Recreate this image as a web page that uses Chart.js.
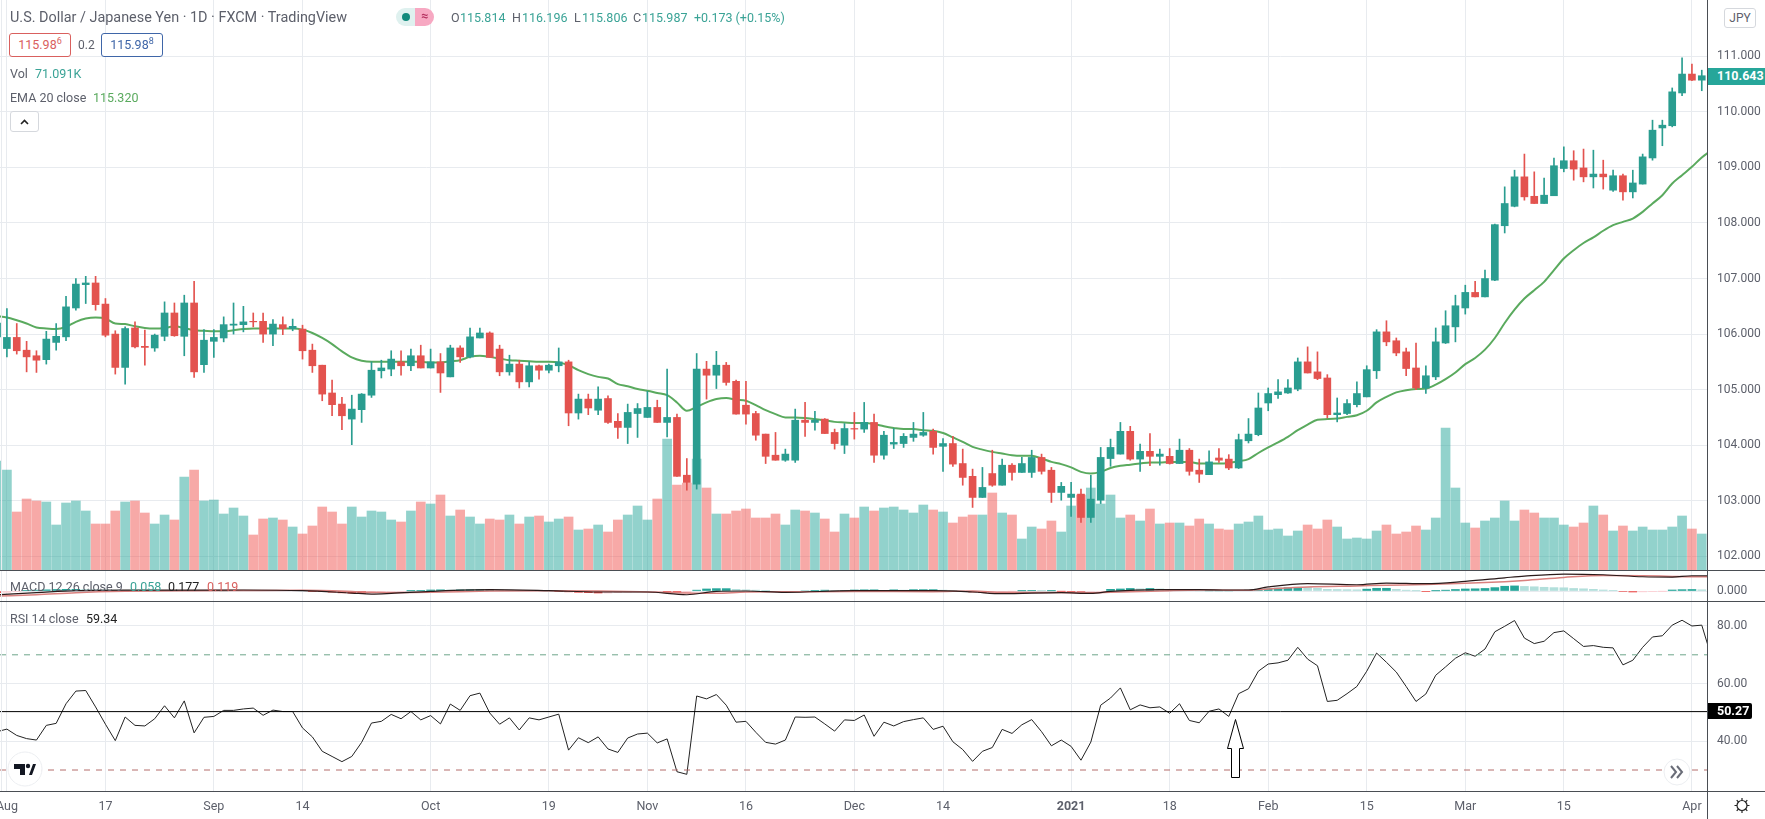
<!DOCTYPE html>
<html>
<head>
<meta charset="utf-8">
<script src="https://cdn.jsdelivr.net/npm/chart.js@4"></script>
<style>
html, body { margin: 0; padding: 0; background: #fff; overflow: hidden; }
#page { position: relative; width: 1765px; height: 819px; overflow: hidden; font-family: Roboto, sans-serif; font-size: 12.5px; color: #5d606b; }
canvas { position: absolute; left: 0; }
.t { position: absolute; white-space: nowrap; line-height: 16px; }
.g { color: #3aa396; }
.sep { position: absolute; background: #4a4e54; }
.box { position: absolute; border-radius: 3px; background: #fff; text-align: center; line-height: 22px; height: 22px; }
sup { font-size: 9px; line-height: 0; }
.tag { position: absolute; color: #fff; font-weight: bold; font-size: 12.5px; line-height: 16px; padding-left: 9px; box-sizing: border-box; }
</style>
</head>
<body>
<div id="page">
  <canvas id="priceChart" style="top:0" width="1765" height="570"></canvas>
  <canvas id="macdChart" style="top:571px" width="1765" height="30"></canvas>
  <canvas id="rsiChart" style="top:601px" width="1765" height="218"></canvas>

  <div class="sep" style="left:1px;top:0;width:1px;height:791px;background:#e8ebef"></div>
  <div class="sep" style="left:0;top:570px;width:1765px;height:1px"></div>
  <div class="sep" style="left:0;top:601px;width:1765px;height:1px"></div>
  <div class="sep" style="left:0;top:791px;width:1765px;height:1px"></div>
  <div class="sep" style="left:1707px;top:0;width:1px;height:819px"></div>

  <div class="t" style="left:10px;top:10px;font-size:14.4px">U.S. Dollar / Japanese Yen · 1D · FXCM · TradingView</div>
  <div style="position:absolute;left:396px;top:8px;width:19px;height:18px;background:#dff1ef;border-radius:9px 0 0 9px"></div>
  <div style="position:absolute;left:402px;top:13px;width:8px;height:8px;background:#138a7c;border-radius:50%"></div>
  <div class="t" style="left:415px;top:8px;width:19px;height:18px;background:#f7a8c2;border-radius:0 9px 9px 0;color:#b5305f;text-align:center;font-weight:bold">≈</div>
  <div class="t" style="left:451px;top:10px">O</div><div class="t g" style="left:460px;top:10px">115.814</div>
  <div class="t" style="left:512px;top:10px">H</div><div class="t g" style="left:522px;top:10px">116.196</div>
  <div class="t" style="left:574px;top:10px">L</div><div class="t g" style="left:582px;top:10px">115.806</div>
  <div class="t" style="left:633px;top:10px">C</div><div class="t g" style="left:642px;top:10px">115.987</div>
  <div class="t g" style="left:694px;top:10px">+0.173 (+0.15%)</div>

  <div class="box" style="left:9px;top:33px;width:60px;border:1px solid #d9605e;color:#d9605e">115.98<sup>6</sup></div>
  <div class="t" style="left:78px;top:37px;font-size:12px">0.2</div>
  <div class="box" style="left:101px;top:33px;width:60px;border:1px solid #3f66a8;color:#3f66a8">115.98<sup>8</sup></div>

  <div class="t" style="left:10px;top:66px">Vol</div>
  <div class="t g" style="left:35px;top:66px">71.091K</div>
  <div class="t" style="left:10px;top:90px">EMA 20 close</div>
  <div class="t" style="left:93px;top:90px;color:#5aaa5e">115.320</div>
  <div class="box" style="left:10px;top:111px;width:27px;height:19px;line-height:19px;border:1px solid #d5d8dd;color:#222"><svg width="11" height="8" viewBox="0 0 11 8"><path d="M2 6 L5.5 2.5 L9 6" fill="none" stroke="#222" stroke-width="1.6"/></svg></div>

  <div class="t" style="left:10px;top:579px">MACD 12 26 close 9</div>
  <div class="t g" style="left:130px;top:579px">0.058</div>
  <div class="t" style="left:168px;top:579px;color:#222">0.177</div>
  <div class="t" style="left:207px;top:579px;color:#d9605e">0.119</div>
  <div class="t" style="left:10px;top:611px">RSI 14 close</div>
  <div class="t" style="left:86px;top:611px;color:#222">59.34</div>

  <div class="box" style="left:1724px;top:8px;width:30px;height:18px;line-height:18px;border:1px solid #d5d8dd;font-size:12px">JPY</div>
  <div class="tag" style="left:1708px;top:68px;width:57px;height:17px;background:#26a69a">110.643</div>
  <div class="tag" style="left:1708px;top:703px;width:44px;height:16px;background:#000;border-radius:0 2px 2px 0">50.27</div>

  <svg style="position:absolute;left:0;top:0" width="1765" height="819">
    <polygon points="1235.5,719.5 1243.5,748.5 1239.5,748.5 1239.5,777.5 1231.5,777.5 1231.5,748.5 1227.5,748.5" fill="#fff" stroke="#000" stroke-width="1"/>
    <circle cx="25" cy="769" r="17" fill="#fff" stroke="#eceef1" stroke-width="1"/>
    <path d="M14 764 H25 V775 H20 V769 H14 Z M29 775 L33 764 H36 L32 775 Z" fill="#131722"/>
    <circle cx="28" cy="766" r="2.2" fill="#131722"/>
    <circle cx="1677" cy="772" r="13" fill="#fff" stroke="#eceef1" stroke-width="1"/>
    <path d="M1671 766 L1676 772 L1671 778 M1677 766 L1682 772 L1677 778" fill="none" stroke="#6a6d78" stroke-width="2"/>
    <g fill="none" stroke="#222" stroke-width="1.2">
      <circle cx="1742" cy="805.5" r="5"/>
      <path d="M1742 798 V800.5 M1742 810.5 V813 M1734.5 805.5 H1737 M1747 805.5 H1749.5 M1736.7 800.2 L1738.5 802 M1745.5 809 L1747.3 810.8 M1736.7 810.8 L1738.5 809 M1745.5 802 L1747.3 800.2"/>
    </g>
  </svg>
</div>

<script>
// Daily USD/JPY bars, index 0 is the bar cut off by the left edge
const opens = [
  105.95,105.74,105.94,105.71,105.61,105.54,105.85,105.95,106.47,106.89,
  106.92,106.54,106.00,105.40,106.11,105.78,105.75,105.96,106.38,105.96,
  106.56,105.45,105.87,105.93,106.16,106.17,106.23,106.23,106.00,106.17,
  106.10,106.09,105.71,105.44,104.94,104.74,104.47,104.64,104.90,105.34,
  105.37,105.50,105.43,105.61,105.39,105.50,105.23,105.75,105.59,105.93,
  106.02,105.73,105.32,105.46,105.14,105.43,105.35,105.43,105.50,104.58,
  104.83,104.63,104.84,104.43,104.32,104.57,104.50,104.68,104.41,104.50,
  103.46,103.30,105.37,105.26,105.44,105.15,104.72,104.57,104.20,103.82,
  103.73,103.73,104.45,104.41,104.47,104.23,104.00,104.30,104.29,104.41,
  103.82,104.02,104.03,104.14,104.18,104.25,103.98,104.03,103.67,103.44,
  103.06,103.49,103.28,103.64,103.51,103.51,103.78,103.55,103.15,103.06,
  103.12,102.70,103.01,103.76,103.84,104.25,103.75,103.89,103.80,103.80,
  103.67,103.91,103.55,103.47,103.77,103.75,103.59,104.08,104.19,104.76,
  104.91,104.94,105.01,105.50,105.32,105.21,104.55,104.57,104.73,104.87,
  105.34,106.04,105.88,105.68,105.39,105.03,105.23,105.84,106.13,106.47,
  106.75,106.67,106.97,107.95,108.30,108.83,108.48,108.35,108.49,108.98,
  109.12,108.99,108.83,108.88,108.59,108.85,108.56,108.70,109.17,109.71,
  109.75,110.34,110.68,110.57
];
const highs = [
  106.30,106.46,106.19,105.87,105.70,106.05,106.19,106.68,107.00,107.04,
  107.04,106.64,106.06,106.13,106.22,106.07,106.00,106.58,106.56,106.70,
  106.95,106.08,106.08,106.31,106.56,106.50,106.38,106.38,106.26,106.31,
  106.27,106.16,105.82,105.44,105.17,104.86,104.90,104.93,105.50,105.53,
  105.70,105.70,105.73,105.80,105.73,105.65,105.80,105.79,106.11,106.11,
  106.04,105.80,105.62,105.53,105.50,105.44,105.46,105.75,105.53,104.92,
  104.92,105.05,104.89,104.57,104.74,104.75,104.97,104.81,105.37,104.56,
  103.76,105.65,105.51,105.69,105.49,105.17,105.15,104.61,104.20,104.23,
  103.93,104.65,104.77,104.61,104.48,104.29,104.39,104.59,104.77,104.56,
  104.25,104.30,104.21,104.41,104.59,104.29,104.12,104.16,103.93,103.57,
  103.60,103.91,103.75,103.67,103.78,103.91,103.84,103.60,103.33,103.33,
  103.21,103.46,103.96,104.11,104.41,104.34,104.02,104.21,103.93,103.94,
  104.11,103.94,103.75,103.90,103.94,103.83,104.20,104.48,104.94,105.03,
  105.18,105.18,105.57,105.77,105.68,105.27,104.85,104.82,105.14,105.43,
  106.08,106.24,105.93,105.75,105.84,105.43,106.11,106.42,106.70,106.88,
  106.95,107.15,107.98,108.65,108.95,109.24,108.92,108.81,109.17,109.37,
  109.30,109.33,109.31,109.13,108.95,108.88,108.95,109.24,109.85,109.85,
  110.43,110.97,110.86,110.75
];
const lows = [
  105.85,105.59,105.64,105.32,105.31,105.46,105.71,105.88,106.43,106.55,
  106.43,105.95,105.28,105.10,105.75,105.44,105.69,105.88,105.96,105.61,
  105.22,105.31,105.58,105.86,106.00,106.04,106.13,105.85,105.79,105.99,
  106.06,105.55,105.31,104.80,104.53,104.28,104.01,104.41,104.86,105.21,
  105.25,105.26,105.34,105.39,105.39,104.95,105.23,105.49,105.57,105.93,
  105.58,105.25,105.26,105.03,105.05,105.19,105.30,105.32,104.35,104.47,
  104.55,104.55,104.39,104.12,104.03,104.14,104.50,104.41,104.15,103.44,
  103.19,103.21,104.83,105.02,105.08,104.56,104.38,104.09,103.67,103.73,
  103.71,103.69,104.16,104.27,104.21,103.93,103.85,104.11,104.23,103.69,
  103.75,103.94,103.96,104.07,104.16,103.84,103.53,103.62,103.28,102.88,
  103.06,103.26,103.28,103.37,103.51,103.42,103.48,102.97,103.01,102.72,
  102.61,102.61,102.95,103.62,103.84,103.73,103.53,103.63,103.64,103.66,
  103.67,103.46,103.33,103.47,103.69,103.56,103.58,104.04,104.17,104.62,
  104.84,104.93,104.98,105.30,105.18,104.49,104.42,104.55,104.69,104.87,
  105.20,105.79,105.61,105.25,105.00,104.93,105.18,105.83,105.86,106.36,
  106.67,106.67,106.96,107.82,108.29,108.41,108.35,108.35,108.49,108.92,
  108.77,108.74,108.63,108.61,108.57,108.41,108.45,108.70,109.13,109.39,
  109.73,110.29,110.56,110.38
];
const closes = [
  106.20,105.94,105.70,105.59,105.53,105.91,105.96,106.49,106.90,106.92,
  106.53,105.98,105.40,106.10,105.77,105.76,105.98,106.38,105.97,106.56,
  105.32,105.89,105.94,106.17,106.18,106.22,106.22,106.00,106.18,106.10,
  106.14,105.70,105.43,104.92,104.73,104.53,104.65,104.92,105.35,105.39,
  105.55,105.43,105.61,105.39,105.50,105.30,105.75,105.59,105.95,106.02,
  105.58,105.32,105.46,105.14,105.43,105.35,105.44,105.50,104.58,104.83,
  104.67,104.83,104.41,104.32,104.59,104.66,104.68,104.41,104.50,103.44,
  103.33,105.37,105.26,105.44,105.13,104.56,104.56,104.18,103.80,103.73,
  103.84,104.45,104.41,104.45,104.21,104.03,104.30,104.29,104.41,103.82,
  104.18,104.05,104.16,104.20,104.23,103.96,104.03,103.66,103.42,103.06,
  103.24,103.28,103.64,103.51,103.67,103.78,103.53,103.15,103.26,103.12,
  102.70,103.03,103.78,103.96,104.25,103.75,103.89,103.80,103.84,103.67,
  103.91,103.53,103.48,103.70,103.73,103.59,104.10,104.20,104.67,104.93,
  104.96,105.03,105.50,105.30,105.20,104.55,104.58,104.75,104.93,105.36,
  106.04,105.86,105.66,105.38,105.03,105.25,105.86,106.15,106.51,106.75,
  106.67,107.00,107.97,108.35,108.83,108.47,108.35,108.50,109.03,109.12,
  108.97,108.83,108.88,108.83,108.85,108.56,108.72,109.19,109.67,109.76,
  110.36,110.68,110.57,110.65
];
const volumes = [
  109,100,58,71,69,68,45,67,69,59,
  46,46,59,68,69,57,46,55,50,93,
  100,69,70,56,62,54,35,51,52,50,
  43,36,44,63,58,46,63,53,59,58,
  50,48,59,68,66,75,54,60,53,46,
  51,50,55,46,53,54,48,51,53,40,
  41,45,38,50,55,64,50,71,131,85,
  87,111,82,56,56,59,61,52,52,56,
  45,60,59,57,51,38,56,52,63,59,
  62,63,60,57,65,60,58,47,53,55,
  55,77,57,55,31,43,41,49,38,64,
  75,82,66,75,52,55,49,61,46,47,
  47,44,51,46,41,40,46,48,54,40,
  41,34,39,45,41,50,43,31,32,31,
  39,45,36,38,44,40,52,142,82,47,
  42,49,52,69,49,60,57,52,52,45,
  43,47,64,55,39,44,39,43,40,40,
  43,54,41,36
];
const ema20 = [
  106.32,106.30,106.25,106.19,106.12,106.10,106.09,106.13,106.22,106.28,
  106.30,106.28,106.19,106.18,106.14,106.11,106.10,106.11,106.14,106.11,
  106.07,106.06,106.05,106.05,106.07,106.09,106.10,106.10,106.10,106.10,
  106.10,106.08,106.02,105.93,105.82,105.69,105.58,105.52,105.50,105.50,
  105.50,105.50,105.50,105.50,105.49,105.49,105.51,105.53,105.59,105.61,
  105.59,105.56,105.53,105.52,105.51,105.50,105.50,105.49,105.44,105.35,
  105.28,105.23,105.20,105.10,105.06,105.01,104.98,104.94,104.90,104.77,
  104.62,104.69,104.77,104.83,104.85,104.82,104.80,104.72,104.63,104.56,
  104.50,104.50,104.49,104.47,104.45,104.42,104.41,104.40,104.40,104.38,
  104.34,104.31,104.29,104.29,104.27,104.26,104.22,104.14,104.06,103.97,
  103.92,103.88,103.85,103.82,103.81,103.81,103.76,103.70,103.66,103.60,
  103.52,103.49,103.52,103.59,103.63,103.65,103.67,103.69,103.69,103.70,
  103.70,103.70,103.67,103.67,103.67,103.68,103.71,103.75,103.86,103.96,
  104.05,104.15,104.27,104.37,104.46,104.47,104.48,104.51,104.54,104.62,
  104.77,104.87,104.95,104.99,105.01,105.02,105.09,105.19,105.31,105.46,
  105.57,105.72,105.93,106.20,106.44,106.64,106.79,106.94,107.15,107.36,
  107.51,107.64,107.74,107.86,107.96,108.02,108.08,108.20,108.35,108.50,
  108.71,108.86,109.01,109.18,109.31
];
const rsi14 = [
  43.3,44.2,42.0,40.9,40.4,45.5,46.2,53.0,57.4,57.6,
  51.9,45.9,40.2,48.4,45.5,45.3,47.8,52.3,48.1,54.0,
  42.9,48.3,48.6,50.7,50.7,51.2,51.5,49.0,50.8,50.3,
  50.3,44.6,41.5,36.5,34.7,32.9,34.7,39.6,46.3,46.9,
  49.3,47.8,50.3,47.4,48.9,46.0,52.9,50.7,55.8,56.7,
  49.8,45.9,48.1,43.9,48.1,47.4,48.4,49.4,36.9,41.2,
  39.5,41.5,37.3,36.1,41.1,42.5,42.8,39.4,40.8,29.4,
  28.5,55.7,54.7,56.2,52.5,46.6,46.9,43.1,39.6,39.0,
  40.4,48.4,48.3,48.4,46.0,43.5,47.4,47.2,49.1,41.7,
  46.6,45.3,46.8,47.5,48.1,44.1,45.2,39.8,37.1,33.0,
  36.5,37.8,44.1,42.7,45.7,47.5,43.3,38.4,40.4,38.2,
  33.4,39.7,52.5,55.0,58.5,50.9,52.6,51.6,51.9,49.7,
  53.0,47.2,46.4,50.4,51.2,48.6,56.5,58.2,64.3,66.8,
  67.2,68.1,72.6,68.5,66.2,53.8,54.2,56.5,59.0,64.3,
  70.6,67.4,64.0,59.0,53.8,56.4,62.9,65.8,68.8,70.7,
  69.5,72.0,78.0,79.9,81.9,75.8,73.9,74.7,77.7,78.3,
  75.6,72.9,73.2,72.6,72.4,66.5,68.1,72.6,76.2,76.6,
  80.3,82.0,80.0,80.3,69.0
];
const macdHist = [
  -0.10,-0.08,-0.04,0.02,0.05,0.07,0.09,0.10,0.10,0.09,
  0.08,0.07,0.06,0.05,0.04,0.04,0.03,0.03,0.03,0.02,
  0.02,0.02,0.01,0.01,0.03,0.04,0.04,0.03,0.03,0.02,
  0.02,0.01,-0.02,-0.04,-0.07,-0.11,-0.13,-0.14,-0.13,-0.10,
  -0.06,-0.03,0.01,0.04,0.06,0.07,0.06,0.07,0.08,0.09,
  0.09,0.07,0.05,0.03,0.02,0.01,0.00,-0.01,-0.05,-0.08,
  -0.10,-0.12,-0.12,-0.10,-0.07,-0.04,-0.02,-0.02,-0.06,-0.10,
  -0.10,0.05,0.12,0.14,0.14,0.10,0.07,0.05,0.02,-0.02,
  -0.08,-0.02,0.00,0.02,0.05,0.02,0.03,0.06,0.07,0.07,
  0.04,0.07,0.05,0.08,0.08,0.08,0.05,0.04,-0.02,-0.06,
  -0.10,-0.10,-0.03,-0.01,0.01,0.02,0.01,0.01,-0.01,-0.02,
  -0.03,-0.03,-0.02,0.10,0.12,0.15,0.13,0.15,0.12,0.06,
  0.04,0.02,0.01,0.01,0.01,0.01,0.03,0.06,0.10,0.13,
  0.17,0.20,0.22,0.20,0.16,0.10,0.09,0.08,0.07,0.11,
  0.16,0.16,0.10,0.05,0.01,-0.02,0.01,0.05,0.09,0.12,
  0.13,0.15,0.20,0.28,0.30,0.27,0.25,0.22,0.20,0.19,
  0.15,0.13,0.10,0.06,0.02,-0.03,-0.06,-0.05,-0.02,-0.01,
  0.06,0.08,0.09,0.07
];
// MACD lines, read at the bars where they bend
const macdBars = [0,4,8,13,20,25,31,36,38,40,44,50,56,61,66,70,73,76,80,87,95,99,102,108,111,113,118,122,125,127,129,133,138,141,145,149,153,155,159,163,167,170,172,174];
const macdLine = [-0.22,-0.10,0.02,0.05,0.05,0.06,0.02,-0.12,-0.18,-0.14,-0.02,0.08,0.02,-0.06,-0.06,-0.22,-0.02,0.00,-0.08,0.02,0.02,-0.06,-0.16,-0.10,-0.14,-0.02,0.08,0.08,0.06,0.06,0.24,0.43,0.37,0.47,0.43,0.57,0.78,0.88,1.00,0.96,0.84,0.82,0.90,0.90];
const signalLine = [-0.30,-0.22,-0.10,-0.02,0.02,0.03,0.04,-0.03,-0.08,-0.10,-0.08,0.00,0.02,0.00,-0.06,-0.12,-0.14,-0.06,-0.05,-0.03,-0.04,0.00,-0.08,-0.09,-0.11,-0.07,0.00,0.06,0.05,0.05,0.12,0.24,0.30,0.34,0.38,0.45,0.55,0.62,0.80,0.92,0.90,0.86,0.84,0.85];

const priceTicks = [102,103,104,105,106,107,108,109,110,111];
const macdTicks = [0];
const rsiTicks = [40,60,80];
const dateBars = [1,11,22,31,44,56,66,76,87,96,109,119,129,139,149,159,172];
const dateLabels = ['Aug','17','Sep','14','Oct','19','Nov','16','Dec','14','2021','18','Feb','15','Mar','15','Apr'];

const FONT = 'Roboto';
const GRID = '#e8ebef';
const TEXT = '#5d606b';
const UP = '#2a9d90';
const DOWN = '#e3534f';
const UP_SOFT = 'rgba(38,166,154,0.5)';
const DOWN_SOFT = 'rgba(239,83,80,0.5)';
const xMin = 0.3;
const xMax = 173.53;

const isUp = i => closes[i] >= opens[i];
const bars = values => values.map((v, i) => ({ x: i, y: v }));

function timeAxis(showLabels, height) {
    return {
        type: 'linear',
        min: xMin,
        max: xMax,
        offset: false,
        afterBuildTicks: s => { s.ticks = dateBars.map(v => ({ value: v })); },
        afterFit: s => { s.height = height; s.paddingLeft = 0; s.paddingRight = 0; },
        grid: { color: GRID, offset: false, drawTicks: false },
        border: { display: false },
        ticks: {
            display: showLabels,
            autoSkip: false,
            maxRotation: 0,
            padding: 8,
            color: TEXT,
            callback: v => dateLabels[dateBars.indexOf(v)],
            font: ctx => ({ family: FONT, size: 12.5, weight: ctx.tick && ctx.tick.label === '2021' ? 'bold' : 'normal' })
        }
    };
}

function valueAxis(min, max, tickValues, digits) {
    return {
        position: 'right',
        min: min,
        max: max,
        afterBuildTicks: s => { s.ticks = tickValues.map(v => ({ value: v })); },
        afterFit: s => { s.width = 58; s.paddingTop = 0; s.paddingBottom = 0; },
        grid: { color: GRID, drawTicks: false },
        border: { display: false },
        ticks: {
            autoSkip: false,
            padding: 10,
            color: TEXT,
            font: { family: FONT, size: 12 },
            callback: v => v.toFixed(digits)
        }
    };
}

const baseOptions = {
    responsive: false,
    animation: false,
    events: [],
    layout: { padding: 0 },
    plugins: { legend: { display: false }, tooltip: { enabled: false } },
    elements: { point: { radius: 0 } }
};

// Price pane: volume at the back, then EMA, then wicks and bodies
new Chart(document.getElementById('priceChart').getContext('2d'), {
    type: 'bar',
    data: {
        datasets: [
            {
                data: bars(volumes),
                yAxisID: 'vol',
                order: 4,
                grouped: false,
                barThickness: 9,
                backgroundColor: volumes.map((_, i) => isUp(i) ? UP_SOFT : DOWN_SOFT)
            },
            {
                type: 'line',
                data: bars(ema20),
                yAxisID: 'y',
                order: 3,
                borderColor: '#5aaa5e',
                borderWidth: 2,
                cubicInterpolationMode: 'monotone'
            },
            {
                data: opens.map((_, i) => ({ x: i, y: [lows[i], highs[i]] })),
                yAxisID: 'y',
                order: 2,
                grouped: false,
                barThickness: 1,
                backgroundColor: opens.map((_, i) => isUp(i) ? UP : DOWN)
            },
            {
                data: opens.map((_, i) => ({ x: i, y: [opens[i], closes[i]] })),
                yAxisID: 'y',
                order: 1,
                grouped: false,
                barThickness: 7,
                backgroundColor: opens.map((_, i) => isUp(i) ? UP : DOWN)
            }
        ]
    },
    options: {
        ...baseOptions,
        scales: {
            x: timeAxis(false, 0),
            y: valueAxis(101.754, 112.013, priceTicks, 3),
            vol: { display: false, min: 0, max: 570 }
        }
    }
});

// MACD pane
new Chart(document.getElementById('macdChart').getContext('2d'), {
    type: 'bar',
    data: {
        datasets: [
            {
                data: bars(macdHist),
                order: 3,
                grouped: false,
                barThickness: 8,
                backgroundColor: macdHist.map((v, i) => {
                    const rising = i > 0 && v >= macdHist[i - 1];
                    if (v >= 0) return rising ? '#26a69a' : '#b2dfdb';
                    return rising ? '#ffcdd2' : '#ef5350';
                })
            },
            {
                type: 'line',
                data: macdBars.map((b, i) => ({ x: b, y: signalLine[i] })),
                order: 2,
                borderColor: '#d9807e',
                borderWidth: 1.5,
                cubicInterpolationMode: 'monotone'
            },
            {
                type: 'line',
                data: macdBars.map((b, i) => ({ x: b, y: macdLine[i] })),
                order: 1,
                borderColor: '#2a1a1a',
                borderWidth: 1.2,
                cubicInterpolationMode: 'monotone'
            }
        ]
    },
    options: {
        ...baseOptions,
        scales: {
            x: timeAxis(false, 0),
            y: valueAxis(-0.59, 1.18, macdTicks, 3)
        }
    }
});

// RSI pane, this one carries the date labels
new Chart(document.getElementById('rsiChart').getContext('2d'), {
    type: 'line',
    data: {
        datasets: [
            { data: [{ x: xMin, y: 70 }, { x: xMax, y: 70 }], borderColor: '#6ea58b', borderWidth: 1, borderDash: [6, 6] },
            { data: [{ x: xMin, y: 30 }, { x: xMax, y: 30 }], borderColor: '#b46e6c', borderWidth: 1, borderDash: [6, 6] },
            { data: [{ x: xMin, y: 50.27 }, { x: xMax, y: 50.27 }], borderColor: '#000', borderWidth: 1 },
            { data: bars(rsi14), borderColor: '#222', borderWidth: 1 }
        ]
    },
    options: {
        ...baseOptions,
        scales: {
            x: timeAxis(true, 28),
            y: valueAxis(22.71, 88.68, rsiTicks, 2)
        }
    }
});
</script>
</body>
</html>
